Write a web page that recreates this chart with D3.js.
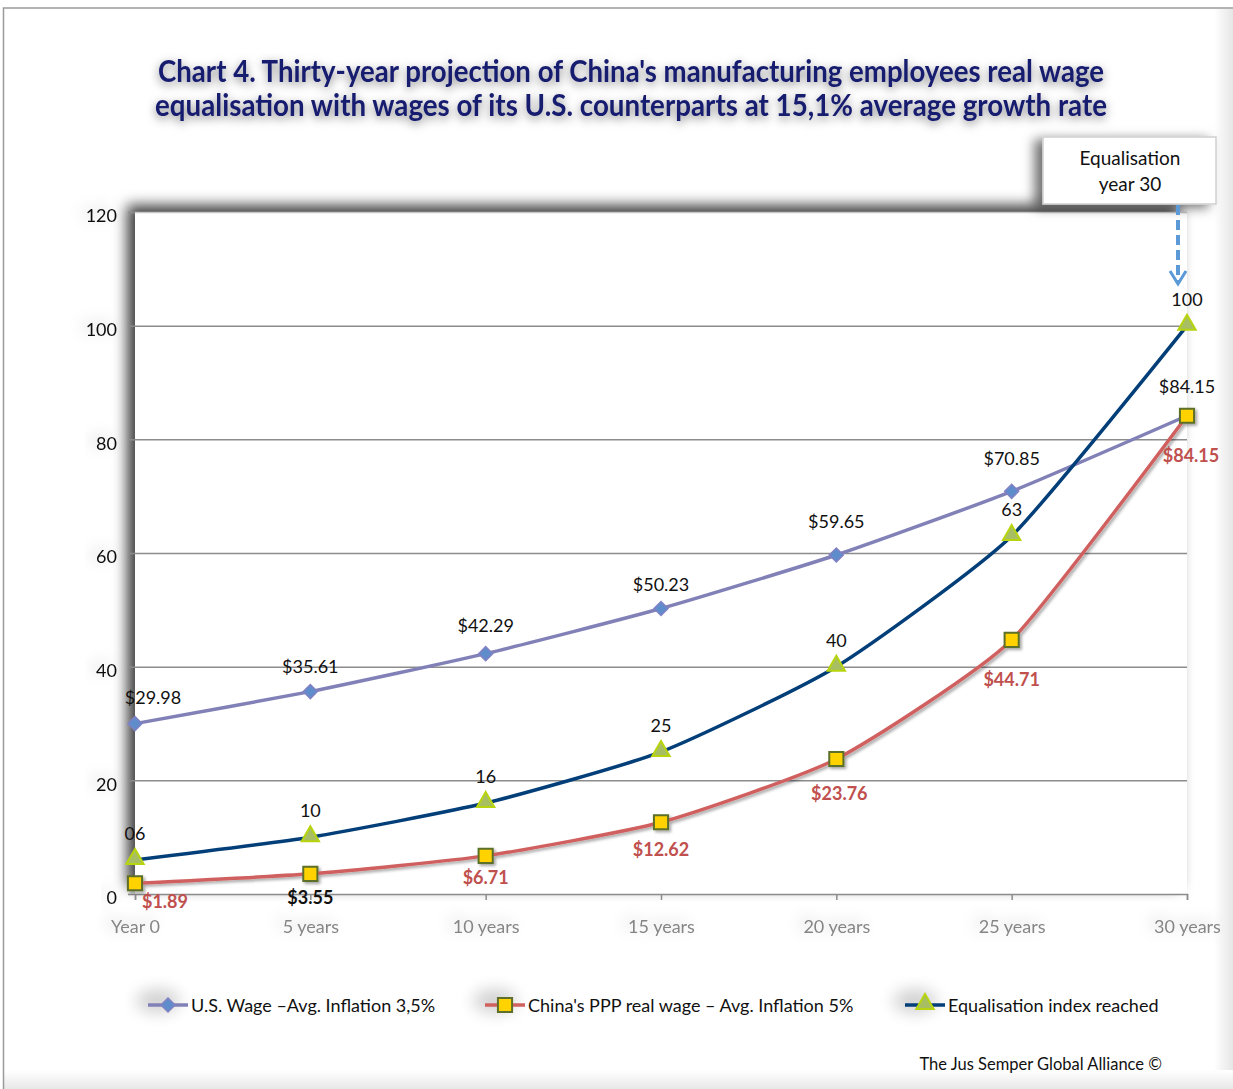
<!DOCTYPE html>
<html>
<head>
<meta charset="utf-8">
<script src="https://cdn.jsdelivr.net/npm/d3@7"></script>
<style>
  html, body { margin: 0; padding: 0; background: #fff; }
  svg { display: block; }
  text { font-family: Lato, "Open Sans", sans-serif; }
</style>
</head>
<body>
<svg id="chart" width="1233" height="1089"></svg>
<script>
// ---- data ----
const categories = ["Year 0", "5 years", "10 years", "15 years", "20 years", "25 years", "30 years"];
const usWage = [29.98, 35.61, 42.29, 50.23, 59.65, 70.85, 84.15];
const chinaWage = [1.89, 3.55, 6.71, 12.62, 23.76, 44.71, 84.15];
const equalisationIndex = [6, 10, 16, 25, 40, 63, 100];
const yTicks = [0, 20, 40, 60, 80, 100, 120];
const seriesNames = ["U.S. Wage \u2013Avg. Inflation 3,5%", "China's PPP real wage \u2013 Avg. Inflation 5%", "Equalisation index reached"];
const titleLines = [
  "Chart 4. Thirty-year projection of China's manufacturing employees real wage",
  "equalisation with wages of its U.S. counterparts at 15,1% average growth rate"
];

// ---- layout ----
const W = 1233, H = 1089;
const plot = { left: 135, right: 1187, top: 212, bottom: 894 };

const svg = d3.select("#chart");
const defs = svg.append("defs");

// filters
const fPlot = defs.append("filter").attr("id", "plotShadow")
  .attr("x", "-10%").attr("y", "-10%").attr("width", "120%").attr("height", "120%");
fPlot.append("feDropShadow").attr("dx", -8).attr("dy", -7).attr("stdDeviation", 7)
  .attr("flood-color", "#000").attr("flood-opacity", 0.75);

const fTitle = defs.append("filter").attr("id", "titleShadow")
  .attr("filterUnits", "userSpaceOnUse")
  .attr("x", 100).attr("y", 30).attr("width", 1060).attr("height", 120);
fTitle.append("feDropShadow").attr("dx", 0).attr("dy", 3).attr("stdDeviation", 5)
  .attr("flood-color", "#000").attr("flood-opacity", 0.5);

const fSoft = defs.append("filter").attr("id", "softShadow")
  .attr("x", "-50%").attr("y", "-80%").attr("width", "200%").attr("height", "260%");
fSoft.append("feDropShadow").attr("dx", -6).attr("dy", -3).attr("stdDeviation", 7)
  .attr("flood-color", "#000").attr("flood-opacity", 0.2);

const fBlob = defs.append("filter").attr("id", "blob")
  .attr("x", "-50%").attr("y", "-100%").attr("width", "200%").attr("height", "300%");
fBlob.append("feGaussianBlur").attr("stdDeviation", 8);

const fBox = defs.append("filter").attr("id", "boxShadow")
  .attr("x", "-30%").attr("y", "-30%").attr("width", "160%").attr("height", "160%");
fBox.append("feDropShadow").attr("dx", -8).attr("dy", 3).attr("stdDeviation", 6)
  .attr("flood-color", "#000").attr("flood-opacity", 0.55);

const fLine = defs.append("filter").attr("id", "lineShadow")
  .attr("x", "-10%").attr("y", "-10%").attr("width", "120%").attr("height", "120%");
fLine.append("feDropShadow").attr("dx", 2).attr("dy", 2).attr("stdDeviation", 1.5)
  .attr("flood-color", "#000").attr("flood-opacity", 0.35);

const gradR = defs.append("linearGradient").attr("id", "rightEdge")
  .attr("x1", "0").attr("x2", "1").attr("y1", "0").attr("y2", "0");
gradR.append("stop").attr("offset", "0").attr("stop-color", "#fff");
gradR.append("stop").attr("offset", "1").attr("stop-color", "#e6e6e6");

const gradB = defs.append("linearGradient").attr("id", "bottomEdge")
  .attr("x1", "0").attr("x2", "0").attr("y1", "0").attr("y2", "1");
gradB.append("stop").attr("offset", "0").attr("stop-color", "#fff");
gradB.append("stop").attr("offset", "1").attr("stop-color", "#e8e8e8");

// page frame
svg.append("rect").attr("x", 1214).attr("y", 9).attr("width", 19).attr("height", H)
  .attr("fill", "url(#rightEdge)");
svg.append("rect").attr("x", 3).attr("y", 1070).attr("width", W).attr("height", 19)
  .attr("fill", "url(#bottomEdge)");
svg.append("path").attr("d", `M3.5,${H} V8 H${W}`).attr("fill", "none")
  .attr("stroke", "#9a9a9a").attr("stroke-width", 1.5);

// title
const title = svg.append("g").attr("filter", "url(#titleShadow)");
titleLines.forEach((t, i) => {
  title.append("text")
    .attr("x", 631).attr("y", 82 + i * 34)
    .attr("text-anchor", "middle")
    .attr("textLength", i === 0 ? 946 : 952)
    .attr("lengthAdjust", "spacingAndGlyphs")
    .style("font-family", "Lato, 'Open Sans', sans-serif")
    .style("font-weight", "bold")
    .style("font-size", "30px")
    .attr("fill", "#161a6e")
    .text(t);
});

// scales
const x = d3.scalePoint().domain(categories).range([plot.left, plot.right]).padding(0);
const y = d3.scaleLinear().domain([0, 120]).range([plot.bottom, plot.top]);

// plot area with its shadow
svg.append("rect")
  .attr("x", plot.left).attr("y", plot.top)
  .attr("width", plot.right - plot.left).attr("height", plot.bottom - plot.top)
  .attr("fill", "#fff").attr("filter", "url(#plotShadow)");

// gridlines
const grid = svg.append("g").attr("transform", `translate(${plot.left},0)`)
  .call(d3.axisLeft(y).tickValues(yTicks.filter(v => v > 0)).tickSize(-(plot.right - plot.left)).tickFormat(""));
grid.select(".domain").remove();
grid.selectAll(".tick line").attr("stroke", d => d === 120 ? "#c8c8c8" : "#8c8c8c").attr("stroke-width", 1.5);

// y axis
const yAxis = svg.append("g").attr("transform", `translate(${plot.left},0)`)
  .call(d3.axisLeft(y).tickValues(yTicks).tickSize(7).tickPadding(11));
yAxis.select(".domain").remove();
yAxis.selectAll(".tick line").attr("stroke", "#8c8c8c").attr("stroke-width", 1.5);
yAxis.selectAll(".tick text")
  .style("font-size", "18px").attr("fill", "#111").attr("dy", "0.54em")
  .attr("filter", "url(#softShadow)");

// x axis
const xAxis = svg.append("g").attr("transform", `translate(0,${plot.bottom})`)
  .call(d3.axisBottom(x).tickSize(6).tickPadding(20));
xAxis.select(".domain").attr("stroke", "#8c8c8c").attr("stroke-width", 1.5);
xAxis.selectAll(".tick line").attr("stroke", "#8c8c8c").attr("stroke-width", 1.5);
xAxis.selectAll(".tick text")
  .style("font-size", "18px").attr("fill", "#858585")
  .attr("filter", "url(#softShadow)");

// series
const curve = d3.curveCardinal.tension(0.45);
const lineGen = d3.line().x((d, i) => x(categories[i])).y(d => y(d)).curve(curve);

const diamond = d3.symbol().type(d3.symbolSquare).size(98);
const square = d3.symbol().type(d3.symbolSquare).size(200);
const triangle = d3.symbol().type(d3.symbolTriangle).size(130);

// U.S. wage
const gUS = svg.append("g");
gUS.append("path").datum(usWage).attr("d", lineGen)
  .attr("fill", "none").attr("stroke", "#8181b8").attr("stroke-width", 3.5);
gUS.selectAll("path.m").data(usWage).join("path").attr("class", "m")
  .attr("d", diamond)
  .attr("transform", (d, i) => `translate(${x(categories[i])},${y(d)}) rotate(45)`)
  .attr("fill", "#5f8ccb").attr("stroke", "#8181c4").attr("stroke-width", 1.5);

// China wage
const gCN = svg.append("g").attr("filter", "url(#lineShadow)");
gCN.append("path").datum(chinaWage).attr("d", lineGen)
  .attr("fill", "none").attr("stroke", "#d0615f").attr("stroke-width", 3.5);
gCN.selectAll("path.m").data(chinaWage).join("path").attr("class", "m")
  .attr("d", square)
  .attr("transform", (d, i) => `translate(${x(categories[i])},${y(d)})`)
  .attr("fill", "#ffd200").attr("stroke", "#5d6f2a").attr("stroke-width", 2);

// Equalisation index
const gEQ = svg.append("g");
gEQ.append("path").datum(equalisationIndex).attr("d", lineGen)
  .attr("fill", "none").attr("stroke", "#023e78").attr("stroke-width", 3.5);
gEQ.selectAll("path.m").data(equalisationIndex).join("path").attr("class", "m")
  .attr("d", triangle)
  .attr("transform", (d, i) => `translate(${x(categories[i])},${y(d) - 1})`)
  .attr("fill", "#a7bf62").attr("stroke", "#b8d40e").attr("stroke-width", 2);

// data labels
const money = d3.format("$.2f");
const usLabelOffset = [[18, -20], [0, -19], [0, -22], [0, -18], [0, -27], [0, -26], [0, -23]];
const cnLabelOffset = [[30, 25], [0, 30], [0, 28], [0, 34], [3, 41], [0, 46], [4, 46]];
const cnLabelFill = ["#c0504d", "#111", "#c0504d", "#c0504d", "#c0504d", "#c0504d", "#c0504d"];

svg.append("g").selectAll("text").data(usWage).join("text")
  .attr("x", (d, i) => x(categories[i]) + usLabelOffset[i][0])
  .attr("y", (d, i) => y(d) + usLabelOffset[i][1])
  .attr("text-anchor", "middle").style("font-size", "18px").attr("fill", "#111")
  .text(d => money(d));

svg.append("g").selectAll("text").data(chinaWage).join("text")
  .attr("x", (d, i) => x(categories[i]) + cnLabelOffset[i][0])
  .attr("y", (d, i) => y(d) + cnLabelOffset[i][1])
  .attr("text-anchor", "middle").style("font-size", "18px").style("font-weight", "bold")
  .attr("fill", (d, i) => cnLabelFill[i])
  .text(d => money(d));

svg.append("g").selectAll("text").data(equalisationIndex).join("text")
  .attr("x", (d, i) => x(categories[i]))
  .attr("y", d => y(d) - 20)
  .attr("text-anchor", "middle").style("font-size", "18px").attr("fill", "#111")
  .text(d => d3.format("02d")(d));

// callout box and arrow
const callout = svg.append("g");
callout.append("rect").attr("x", 1043).attr("y", 137).attr("width", 173).attr("height", 67)
  .attr("fill", "#fff").attr("stroke", "#cfcfcf").attr("stroke-width", 1.5)
  .attr("filter", "url(#boxShadow)");
["Equalisation", "year 30"].forEach((t, i) => {
  callout.append("text").attr("x", 1130).attr("y", 165 + i * 26)
    .attr("text-anchor", "middle").style("font-size", "19px").attr("fill", "#111").text(t);
});
const ax = x(categories[6]) - 9;
callout.append("line").attr("x1", ax).attr("x2", ax).attr("y1", 205).attr("y2", 282)
  .attr("stroke", "#5b9ad6").attr("stroke-width", 4).attr("stroke-dasharray", "10,5");
callout.append("path").attr("d", `M${ax - 8},${271} L${ax},${284} L${ax + 8},${271}`)
  .attr("fill", "none").attr("stroke", "#5b9ad6").attr("stroke-width", 3);

// legend
const legendX = [148, 485, 905];
const legendStroke = ["#8181b8", "#d0615f", "#023e78"];
const legend = svg.append("g");
seriesNames.forEach((name, i) => {
  const g = legend.append("g").attr("transform", `translate(${legendX[i]},1005)`);
  g.append("ellipse").attr("cx", 10).attr("cy", -4).attr("rx", 22).attr("ry", 12)
    .attr("fill", "#000").attr("opacity", 0.18).attr("filter", "url(#blob)");
  g.append("line").attr("x1", 0).attr("x2", 40).attr("y1", 0).attr("y2", 0)
    .attr("stroke", legendStroke[i]).attr("stroke-width", 3.5);
  if (i === 0) {
    g.append("path").attr("d", diamond).attr("transform", "translate(20,0) rotate(45)")
      .attr("fill", "#5f8ccb").attr("stroke", "#8181c4").attr("stroke-width", 1.5);
  } else if (i === 1) {
    g.append("path").attr("d", square).attr("transform", "translate(20,0)")
      .attr("fill", "#ffd200").attr("stroke", "#5d6f2a").attr("stroke-width", 2);
  } else {
    g.append("path").attr("d", triangle).attr("transform", "translate(20,-1)")
      .attr("fill", "#a7bf62").attr("stroke", "#b8d40e").attr("stroke-width", 2);
  }
  g.append("text").attr("x", 43).attr("y", 7).style("font-size", "18px").attr("fill", "#111").text(name);
});

// credit
svg.append("text").attr("x", 1162).attr("y", 1070).attr("text-anchor", "end")
  .style("font-size", "16.5px").attr("fill", "#111").text("The Jus Semper Global Alliance \u00a9");
</script>
</body>
</html>
